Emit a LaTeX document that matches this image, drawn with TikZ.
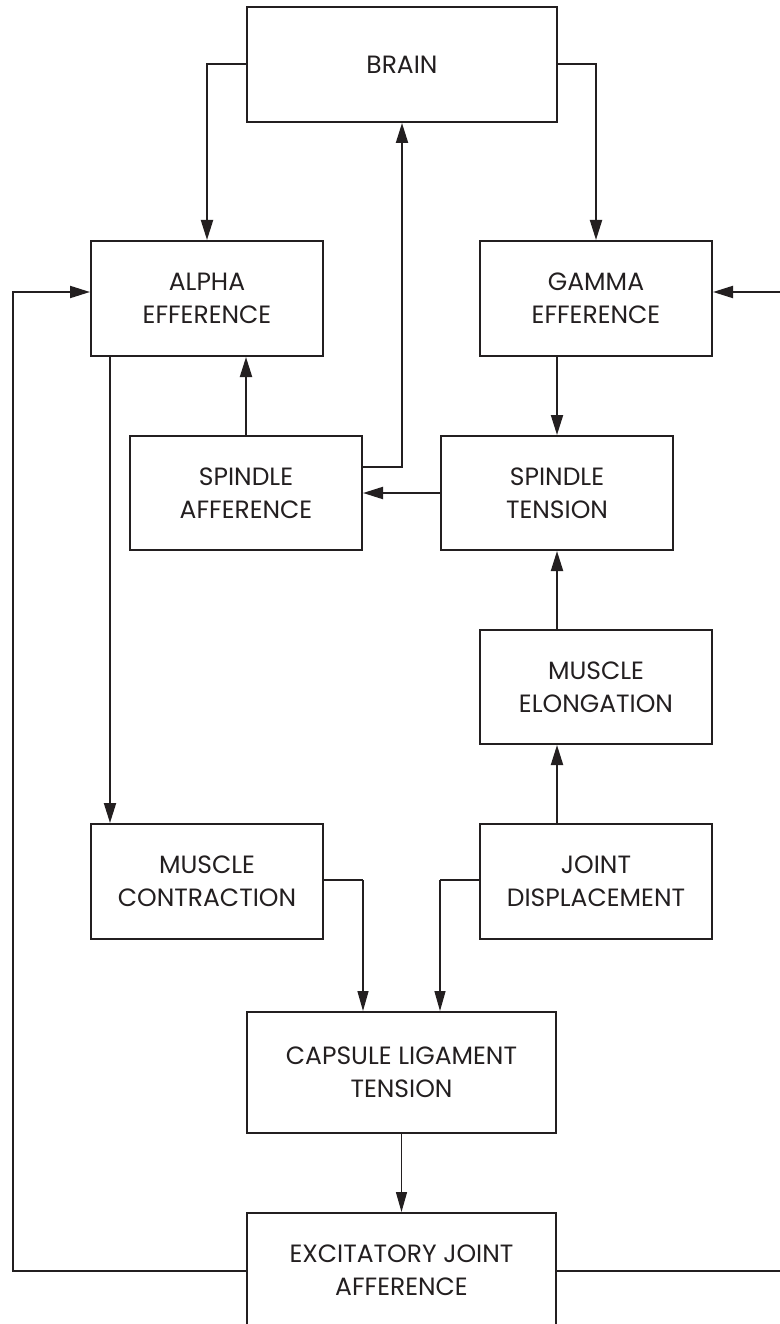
\documentclass[tikz,border=0pt]{standalone}
\usepackage{fontspec}
\setmainfont{Poppins}
\usetikzlibrary{arrows.meta}
\definecolor{ink}{HTML}{231F20}
\tikzset{
  box/.style={draw=ink, line width=2pt, inner sep=0pt, align=center, text=ink,
    font=\fontsize{25}{33}\selectfont, minimum width=232pt, minimum height=115pt},
  wide/.style={box, minimum width=310pt},
  conn/.style={draw=ink, line width=2pt, -{Triangle[length=20pt,width=12pt]}},
  thin/.style={draw=ink, line width=1.3pt, -{Triangle[length=20pt,width=11pt]}},
  plain/.style={draw=ink, line width=2pt}
}
\begin{document}
\begin{tikzpicture}[x=1pt,y=-1pt]
\useasboundingbox (0,0) rectangle (779,1324);
\node[wide] (brain) at (402,64.5) {BRAIN};
\node[box] (alpha) at (207,298.5) {ALPHA\\EFFERENCE};
\node[box] (gamma) at (596,298.5) {GAMMA\\EFFERENCE};
\node[box, minimum height=114pt] (spaff) at (246,493) {SPINDLE\\AFFERENCE};
\node[box, minimum height=114pt] (spten) at (557,493) {SPINDLE\\TENSION};
\node[box, minimum height=114pt] (elong) at (596,687) {MUSCLE\\ELONGATION};
\node[box] (contr) at (207,881.5) {MUSCLE\\CONTRACTION};
\node[box] (joint) at (596,881.5) {JOINT\\DISPLACEMENT};
\node[wide, minimum width=309pt, minimum height=121pt] (caps) at (401.5,1072.5) {CAPSULE LIGAMENT\\TENSION};
\node[wide, minimum width=309pt] (excit) at (401.5,1270.5) {EXCITATORY JOINT\\AFFERENCE};
% free-end coordinates
\coordinate (ain) at ([yshift=6.5pt]alpha.west);
\coordinate (gin) at ([yshift=6.5pt]gamma.east);
\coordinate (l1) at (13,1270.5);
\coordinate (l2) at (13,292);
\coordinate (r1) at (782,1270.5);
\coordinate (r2) at (782,292);
% brain outputs
\draw[conn] (brain.west) -| (alpha.north);
\draw[conn] (brain.east) -| (gamma.north);
% spindle afference to brain
\draw[conn] ([yshift=26pt]spaff.east) -| (brain.south);
\draw[conn] (spten.west) -- (spaff.east);
\draw[conn] (spaff.north) -- (alpha.south -| spaff.north);
% gamma to spindle tension
\draw[conn] (gamma.south -| spten.north) -- (spten.north);
\draw[conn] (elong.north -| spten.south) -- (spten.south);
\draw[conn] (joint.north -| spten.south) -- (elong.south -| spten.south);
% alpha to muscle contraction
\draw[conn] ([xshift=-97pt]alpha.south) -- ([xshift=-97pt]contr.north);
% to capsule
\draw[plain] ([yshift=1.5pt]contr.east) -- ++(39,0) coordinate (c1);
\draw[thin] (c1) -- (c1 |- caps.north);
\draw[plain] ([yshift=1.5pt]joint.west) -- ++(-39,0) coordinate (j1);
\draw[thin] (j1) -- (j1 |- caps.north);
\draw[thin] (caps.south) -- (excit.north);
% excitatory feedback
\draw[conn] (excit.west) -- (l1) -- (l2) -- (ain);
\draw[conn] (excit.east) -- (r1) -- (r2) -- (gin);
\end{tikzpicture}
\end{document}
